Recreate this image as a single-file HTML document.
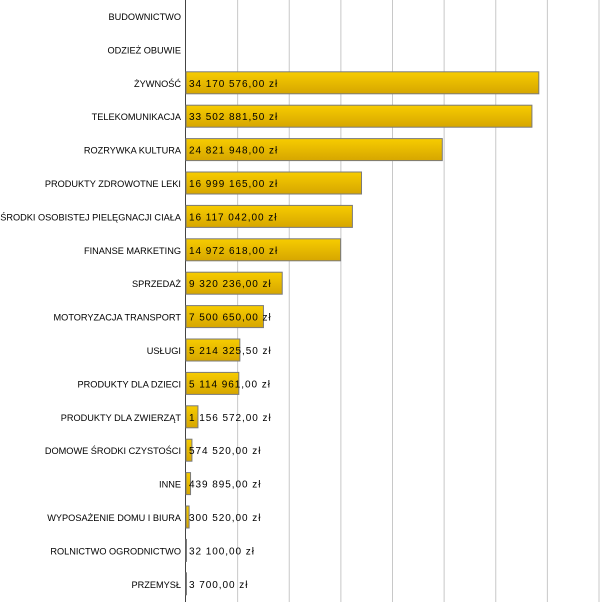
<!DOCTYPE html>
<html><head><meta charset="utf-8"><style>
body{margin:0;background:#fff;}
svg{display:block;font-family:"Liberation Sans",sans-serif;}
</style></head><body>
<svg id="chart" width="600" height="602">
<defs><linearGradient id="g" x1="0" y1="0" x2="0" y2="1"><stop offset="0" stop-color="#f7cc00"/><stop offset="1" stop-color="#d6a600"/></linearGradient></defs>
<g id="grid"></g><g id="bars"></g><g id="labels"></g>
</svg>
<script>
const categories=["BUDOWNICTWO","ODZIEŻ OBUWIE","ŻYWNOŚĆ","TELEKOMUNIKACJA","ROZRYWKA KULTURA","PRODUKTY ZDROWOTNE LEKI","ŚRODKI OSOBISTEJ PIELĘGNACJI CIAŁA","FINANSE MARKETING","SPRZEDAŻ","MOTORYZACJA TRANSPORT","USŁUGI","PRODUKTY DLA DZIECI","PRODUKTY DLA ZWIERZĄT","DOMOWE ŚRODKI CZYSTOŚCI","INNE","WYPOSAŻENIE DOMU I BIURA","ROLNICTWO OGRODNICTWO","PRZEMYSŁ"];
const values=[null,null,34170576,33502881.5,24821948,16999165,16117042,14972618,9320236,7500650,5214325.5,5114961,1156572,574520,439895,300520,32100,3700];
const valueLabels=["","","34 170 576,00 zł","33 502 881,50 zł","24 821 948,00 zł","16 999 165,00 zł","16 117 042,00 zł","14 972 618,00 zł","9 320 236,00 zł","7 500 650,00 zł","5 214 325,50 zł","5 114 961,00 zł","1 156 572,00 zł","574 520,00 zł","439 895,00 zł","300 520,00 zł","32 100,00 zł","3 700,00 zł"];
const gridTicks=[5e6,10e6,15e6,20e6,25e6,30e6,35e6,40e6];
const NS="http://www.w3.org/2000/svg";
const x0=186,x1=599,maxV=40e6;
const xs=v=>x0+v/maxV*(x1-x0);
const ys=i=>16+i*33.4;
function mk(t,a,p){const e=document.createElementNS(NS,t);for(const k in a)e.setAttribute(k,a[k]);p.appendChild(e);return e;}
const grid=document.getElementById('grid'),bars=document.getElementById('bars'),labels=document.getElementById('labels');
gridTicks.forEach(v=>{const l=mk('line',{x1:xs(v),x2:xs(v),y1:0,y2:602,stroke:'#c8c8c8','stroke-width':1},grid);

});
const ax=mk('line',{x1:185.5,x2:185.5,y1:0,y2:602,stroke:'#444','stroke-width':1},grid);


categories.forEach((c,i)=>{const y=ys(i);
const t=mk('text',{x:181,y:y+4,'text-anchor':'end','font-size':9.2,fill:'#000'},labels);t.textContent=c;


if(values[i]!=null){
const r=mk('rect',{x:186,y:y-11,width:Math.max(xs(values[i])-186,0.5),height:22,fill:'url(#g)',stroke:'#7a7a7a','stroke-width':1},bars);


const v=mk('text',{x:189,y:y+4,'font-size':10,'letter-spacing':0.95,fill:'#000'},labels);v.textContent=valueLabels[i];

}
});
</script>
</body></html>
